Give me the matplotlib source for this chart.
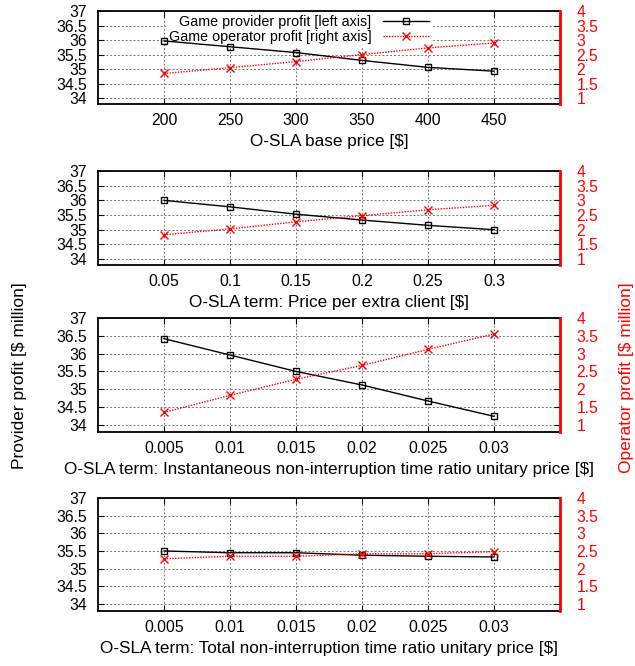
import matplotlib
matplotlib.use("Agg")
import matplotlib.pyplot as plt

plt.rcParams['font.family'] = ['Liberation Sans', 'DejaVu Sans']
plt.rcParams['font.size'] = 11

# panel 1: O-SLA base price
base_price = [200, 250, 300, 350, 400, 450]
prov_base = [35.97, 35.77, 35.57, 35.30, 35.06, 34.93]
oper_base = [1.85, 2.05, 2.26, 2.50, 2.73, 2.90]

# panel 2: price per extra client
extra_price = [0.05, 0.1, 0.15, 0.2, 0.25, 0.3]
prov_extra = [36.00, 35.78, 35.53, 35.33, 35.15, 35.00]
oper_extra = [1.83, 2.03, 2.27, 2.48, 2.68, 2.83]

# panel 3: instantaneous non-interruption time ratio unitary price
inst_price = [0.005, 0.01, 0.015, 0.02, 0.025, 0.03]
prov_inst = [36.42, 35.96, 35.50, 35.12, 34.67, 34.24]
oper_inst = [1.35, 1.83, 2.28, 2.67, 3.12, 3.55]

# panel 4: total non-interruption time ratio unitary price
total_price = [0.005, 0.01, 0.015, 0.02, 0.025, 0.03]
prov_total = [35.50, 35.45, 35.45, 35.38, 35.35, 35.33]
oper_total = [2.28, 2.35, 2.35, 2.42, 2.42, 2.48]

panels = [
    (base_price, prov_base, oper_base, (150, 500), [str(v) for v in base_price],
     'O-SLA base price [$]'),
    (extra_price, prov_extra, oper_extra, (0, 0.35), ['0.05', '0.1', '0.15', '0.2', '0.25', '0.3'],
     'O-SLA term: Price per extra client [$]'),
    (inst_price, prov_inst, oper_inst, (0, 0.035), ['0.005', '0.01', '0.015', '0.02', '0.025', '0.03'],
     'O-SLA term: Instantaneous non-interruption time ratio unitary price [$]'),
    (total_price, prov_total, oper_total, (0, 0.035), ['0.005', '0.01', '0.015', '0.02', '0.025', '0.03'],
     'O-SLA term: Total non-interruption time ratio unitary price [$]'),
]

W, H = 635, 666
# (top, bottom) in pixels for each panel
boxes = [(11, 104), (171, 265), (318, 432), (498, 611)]
left_px, right_px = 98, 560

fig = plt.figure(figsize=(W / 100, H / 100), dpi=100)

left_ticks = [34, 34.5, 35, 35.5, 36, 36.5, 37]
right_ticks = [1, 1.5, 2, 2.5, 3, 3.5, 4]

for i, (xs, prov, oper, xlim, xlabels, title) in enumerate(panels):
    top, bot = boxes[i]
    ax = fig.add_axes([left_px / W, 1 - bot / H, (right_px - left_px) / W, (bot - top) / H])
    ax2 = ax.twinx()

    ax.set_xlim(*xlim)
    ax.set_ylim(33.8, 37)
    ax2.set_ylim(0.8, 4)
    ax.set_xticks(xs)
    ax.set_xticklabels(xlabels)
    ax.set_yticks(left_ticks)
    ax.set_yticklabels(['34', '34.5', '35', '35.5', '36', '36.5', '37'])
    ax2.set_yticks(right_ticks)
    ax2.set_yticklabels(['1', '1.5', '2', '2.5', '3', '3.5', '4'])

    ax.grid(True, color='0.45', linestyle=(0, (2, 2)), linewidth=0.7)
    ax.tick_params(axis='x', direction='in', top=True, pad=6.5, length=4, labelsize=11.3)
    ax.tick_params(axis='y', direction='in', pad=8, length=4, labelsize=11.3)
    ax2.tick_params(axis='y', direction='in', pad=12, length=4, labelsize=11.3,
                    labelcolor='red', color='black')
    for s in ['left', 'top', 'bottom']:
        ax.spines[s].set_linewidth(1.3)
    ax.spines['right'].set_visible(False)
    ax2.spines['right'].set_color('red')
    ax2.spines['right'].set_linewidth(2)
    for s in ['left', 'top', 'bottom']:
        ax2.spines[s].set_visible(False)

    ax.plot(xs, prov, color='black', linewidth=1, marker='s', markersize=5,
            markerfacecolor='none', markeredgewidth=1, zorder=6,
            label='Game provider profit [left axis]')
    ax2.plot(xs, oper, color='red', linewidth=1, linestyle=(0, (1, 1)), marker='x',
             markersize=6, markeredgewidth=1,
             label='Game operator profit [right axis]')

    ax.set_xlabel(title, fontsize=12.3, labelpad=4)

    if i == 0:
        h1, l1 = ax.get_legend_handles_labels()
        h2, l2 = ax2.get_legend_handles_labels()
        leg = ax.legend(h1 + h2, l1 + l2, loc='upper right', bbox_to_anchor=(0.725, 1.0),
                        markerfirst=False, fontsize=10.3, frameon=True, fancybox=False,
                        borderaxespad=0.1, borderpad=0.2, labelspacing=0.05,
                        handlelength=3.2, handletextpad=0.8)
        leg.get_frame().set_facecolor('white')
        leg.get_frame().set_edgecolor('none')
        leg.get_frame().set_alpha(1)

fig.text(20 / W, 1 - 376 / H, 'Provider profit [$ million]', rotation=90,
         ha='center', va='center', fontsize=12.5)
fig.text(627 / W, 1 - 378 / H, 'Operator profit [$ million]', rotation=90,
         ha='center', va='center', fontsize=12.5, color='red')

fig.savefig('out.png', dpi=100)
